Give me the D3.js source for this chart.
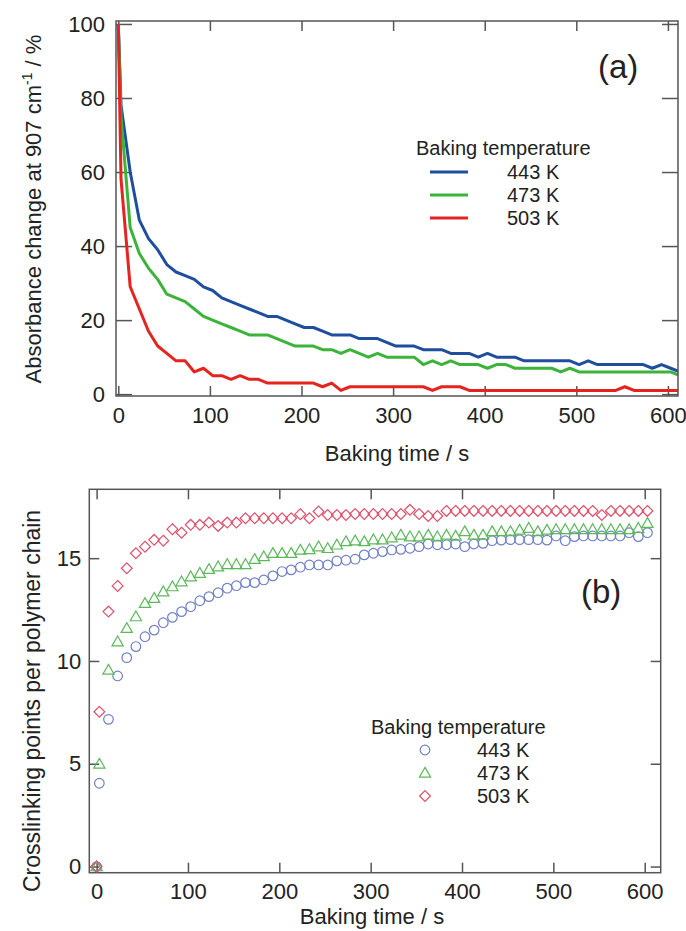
<!DOCTYPE html>
<html lang="en">
<head>
    <meta charset="UTF-8">
    <script src="https://d3js.org/d3.v7.min.js"></script>
    <title>Absorbance change and crosslinking points vs baking time</title>
    <style>
        html,
        body {
            margin: 0px;
            padding: 0px;
            background-color: #ffffff;
            font-family: "Liberation Sans", Arial, sans-serif;
            color: #222;
        }
        svg text {
            fill: #222;
        }
    </style>
</head>
<body>
    <div id="chart"></div>

    <script>
        // baking time (s); index 0 is the unbaked film
        let times = [0, 3, 13, 23, 33, 43, 53, 63, 73, 83,
            93, 103, 113, 123, 133, 143, 153, 163, 173, 183,
            193, 203, 213, 223, 233, 243, 253, 263, 273, 283,
            293, 303, 313, 323, 333, 343, 353, 363, 373, 383,
            393, 403, 413, 423, 433, 443, 453, 463, 473, 483,
            493, 503, 513, 523, 533, 543, 553, 563, 573, 583,
            593, 603, 613];

        let temps = ['443 K', '473 K', '503 K'];

        // (a) absorbance change at 907 cm-1 (%)
        let abs443 = [100, 78, 60, 47, 42, 39, 35, 33, 32, 31,
            29, 28, 26, 25, 24, 23, 22, 21, 21, 20,
            19, 18, 18, 17, 16, 16, 16, 15, 15, 15,
            14, 13, 13, 13, 12, 12, 12, 11, 11, 11,
            10, 11, 10, 10, 10, 9, 9, 9, 9, 9,
            9, 8, 9, 8, 8, 8, 8, 8, 8, 7,
            8, 7, 6];
        let abs473 = [100, 75, 45, 38, 34, 31, 27, 26, 25, 23,
            21, 20, 19, 18, 17, 16, 16, 16, 15, 14,
            13, 13, 13, 12, 12, 11, 12, 11, 10, 11,
            10, 10, 10, 10, 8, 9, 8, 9, 8, 8,
            8, 7, 8, 8, 7, 7, 7, 7, 7, 6,
            7, 6, 6, 6, 6, 6, 6, 6, 6, 6,
            6, 6, 5];
        let abs503 = [100, 58, 29, 23, 17, 13, 11, 9, 9, 6,
            7, 5, 5, 4, 5, 4, 4, 3, 3, 3,
            3, 3, 3, 2, 3, 1, 2, 2, 2, 2,
            2, 2, 2, 2, 2, 1, 2, 2, 2, 1,
            1, 1, 1, 1, 1, 1, 1, 1, 1, 1,
            1, 1, 1, 1, 1, 1, 2, 1, 1, 1,
            1, 1, 1];

        // (b) crosslinking points per polymer chain (times 0 .. 603)
        let cl443 = [0, 4.05, 7.16, 9.27, 10.16, 10.7, 11.18, 11.5, 11.86, 12.12,
            12.4, 12.64, 12.93, 13.13, 13.32, 13.54, 13.66, 13.81, 13.81, 13.94,
            14.14, 14.35, 14.43, 14.56, 14.67, 14.67, 14.67, 14.87, 14.9, 14.95,
            15.16, 15.24, 15.32, 15.4, 15.43, 15.48, 15.56, 15.69, 15.65, 15.65,
            15.69, 15.56, 15.69, 15.72, 15.85, 15.88, 15.9, 15.9, 15.9, 15.9,
            15.88, 16.08, 15.85, 16.05, 16.08, 16.08, 16.08, 16.08, 16.08, 16.24,
            16.05, 16.24];
        let cl473 = [0, 4.99, 9.56, 10.94, 11.59, 12.16, 12.81, 13.05, 13.37, 13.62,
            13.86, 14.1, 14.27, 14.46, 14.59, 14.7, 14.7, 14.7, 14.95, 15.08,
            15.24, 15.24, 15.24, 15.4, 15.43, 15.56, 15.48, 15.65, 15.81, 15.85,
            15.81, 15.9, 15.9, 16.0, 16.13, 16.05, 16.05, 16.13, 16.05, 16.13,
            16.08, 16.3, 16.13, 16.13, 16.3, 16.3, 16.3, 16.37, 16.46, 16.3,
            16.37, 16.4, 16.4, 16.4, 16.4, 16.4, 16.4, 16.4, 16.4, 16.4,
            16.46, 16.7];
        let cl503 = [0, 7.53, 12.4, 13.65, 14.51, 15.24, 15.56, 15.89, 15.85, 16.41,
            16.24, 16.62, 16.62, 16.73, 16.57, 16.73, 16.73, 16.94, 16.94, 16.94,
            16.94, 16.94, 16.94, 17.14, 16.94, 17.27, 17.1, 17.1, 17.1, 17.15,
            17.15, 17.15, 17.15, 17.15, 17.15, 17.35, 17.15, 17.05, 17.05, 17.3,
            17.3, 17.3, 17.3, 17.3, 17.3, 17.3, 17.3, 17.3, 17.3, 17.3,
            17.3, 17.3, 17.3, 17.3, 17.3, 17.3, 17.1, 17.3, 17.3, 17.3,
            17.3, 17.3];

        let absTicksY = [0, 20, 40, 60, 80, 100];
        let clTicksY = [0, 5, 10, 15];
        let timeTicks = [0, 100, 200, 300, 400, 500, 600];

        let lineColours = ['#1f4e9e', '#3cb33a', '#e5231f'];
        let markColours = ['#6f80c6', '#5cb85a', '#e0506a'];

        let width = 686;
        let height = 931;
        let frameColour = '#555';
        let font = '"Liberation Sans", Arial, sans-serif';

        let svg = d3.select('#chart').append('svg')
            .attr('width', width)
            .attr('height', height)
            .style('font-family', font);

        let pairs = (vals) => vals.map((v, i) => [times[i], v]);

        // ---------- panel (a) ----------
        let xa = d3.scaleLinear().domain([-2.5, 611]).range([116, 678]);
        let ya = d3.scaleLinear().domain([-0.5, 100.8]).range([396, 21]);

        let styleAxis = function(g) {
            g.select('.domain').remove();
            g.selectAll('.tick line').attr('stroke', frameColour).attr('stroke-width', 1.5);
            g.selectAll('.tick text').attr('font-size', 22).attr('fill', '#222').attr('font-family', font);
        };

        svg.append('g').attr('transform', 'translate(116,0)')
            .call(d3.axisLeft(ya).tickValues(absTicksY).tickSize(-16).tickPadding(11).tickFormat(d3.format('d')))
            .call(styleAxis);
        svg.append('g').attr('transform', 'translate(678,0)')
            .call(d3.axisRight(ya).tickValues(absTicksY).tickSize(-16).tickFormat(''))
            .call(styleAxis);
        svg.append('g').attr('transform', 'translate(0,396)')
            .call(d3.axisBottom(xa).tickValues(timeTicks).tickSize(-10).tickPadding(11).tickFormat(d3.format('d')))
            .call(styleAxis);
        svg.append('g').attr('transform', 'translate(0,21)')
            .call(d3.axisTop(xa).tickValues(timeTicks).tickSize(-10).tickFormat(''))
            .call(styleAxis);

        svg.append('clipPath').attr('id', 'clipA')
            .append('rect').attr('x', 116).attr('y', 21).attr('width', 562).attr('height', 375);

        let line = d3.line().x(d => xa(d[0])).y(d => ya(d[1]));
        let absSeries = [abs443, abs473, abs503];

        svg.append('g').attr('clip-path', 'url(#clipA)')
            .selectAll('path')
            .data(absSeries)
            .join('path')
            .attr('d', d => line(pairs(d)))
            .attr('fill', 'none')
            .attr('stroke', (d, i) => lineColours[i])
            .attr('stroke-width', 3)
            .attr('stroke-linejoin', 'round');

        svg.append('rect')
            .attr('x', 116).attr('y', 21).attr('width', 562).attr('height', 375)
            .attr('fill', 'none').attr('stroke', frameColour).attr('stroke-width', 1.5);

        svg.append('text')
            .attr('transform', 'translate(41,209) rotate(-90)')
            .attr('text-anchor', 'middle')
            .attr('font-size', 22)
            .call(t => {
                t.append('tspan').text('Absorbance change at 907 cm');
                t.append('tspan').attr('dy', -9).attr('font-size', 14).text('-1');
                t.append('tspan').attr('dy', 9).text(' / %');
            });

        svg.append('text')
            .attr('x', 397).attr('y', 461)
            .attr('text-anchor', 'middle')
            .attr('font-size', 22)
            .text('Baking time / s');

        svg.append('text')
            .attr('x', 598).attr('y', 78)
            .attr('font-size', 33)
            .text('(a)');

        // legend (a)
        let legA = svg.append('g');
        legA.append('text').attr('x', 416).attr('y', 155).attr('font-size', 20).text('Baking temperature');
        temps.forEach((t, i) => {
            let yy = 172 + i * 23;
            legA.append('line')
                .attr('x1', 430).attr('x2', 468).attr('y1', yy).attr('y2', yy)
                .attr('stroke', lineColours[i]).attr('stroke-width', 3);
            legA.append('text').attr('x', 507).attr('y', yy + 7).attr('font-size', 20).text(t);
        });

        // ---------- panel (b) ----------
        let xb = d3.scaleLinear().domain([-8, 617.5]).range([89.3, 660.7]);
        let yb = d3.scaleLinear().domain([-0.3, 18.35]).range([872.7, 489.3]);

        svg.append('g').attr('transform', 'translate(89.3,0)')
            .call(d3.axisLeft(yb).tickValues(clTicksY).tickSize(-10).tickPadding(8).tickFormat(d3.format('d')))
            .call(styleAxis);
        svg.append('g').attr('transform', 'translate(660.7,0)')
            .call(d3.axisRight(yb).tickValues(clTicksY).tickSize(-10).tickFormat(''))
            .call(styleAxis);
        svg.append('g').attr('transform', 'translate(0,872.7)')
            .call(d3.axisBottom(xb).tickValues(timeTicks).tickSize(-10).tickPadding(11).tickFormat(d3.format('d')))
            .call(styleAxis);
        svg.append('g').attr('transform', 'translate(0,489.3)')
            .call(d3.axisTop(xb).tickValues(timeTicks).tickSize(-10).tickFormat(''))
            .call(styleAxis);

        svg.append('rect')
            .attr('x', 89.3).attr('y', 489.3).attr('width', 571.4).attr('height', 383.4)
            .attr('fill', 'none').attr('stroke', frameColour).attr('stroke-width', 1.5);

        let shapes = [
            (g) => g.append('circle').attr('r', 4.8),
            (g) => g.append('path').attr('d', 'M0,-5.6L5.6,4.2L-5.6,4.2Z'),
            (g) => g.append('path').attr('d', 'M0,-5.4L5.4,0L0,5.4L-5.4,0Z')
        ];

        let clSeries = [cl443, cl473, cl503];
        clSeries.forEach((vals, si) => {
            svg.append('g')
                .selectAll('g')
                .data(pairs(vals))
                .join('g')
                .attr('transform', d => `translate(${xb(d[0])},${yb(d[1])})`)
                .each(function() { shapes[si](d3.select(this)); })
                .selectAll('circle, path')
                .attr('fill', 'none')
                .attr('stroke', markColours[si])
                .attr('stroke-width', 1.2);
        });

        svg.append('text')
            .attr('transform', 'translate(40,701) rotate(-90)')
            .attr('text-anchor', 'middle')
            .attr('font-size', 23)
            .text('Crosslinking points per polymer chain');

        svg.append('text')
            .attr('x', 372).attr('y', 924)
            .attr('text-anchor', 'middle')
            .attr('font-size', 22)
            .text('Baking time / s');

        svg.append('text')
            .attr('x', 581).attr('y', 603)
            .attr('font-size', 33)
            .text('(b)');

        // legend (b)
        let legB = svg.append('g');
        legB.append('text').attr('x', 371).attr('y', 734).attr('font-size', 20).text('Baking temperature');
        temps.forEach((t, i) => {
            let yy = 750 + i * 23;
            let g = legB.append('g').attr('transform', `translate(425,${yy})`);
            shapes[i](g).attr('fill', 'none').attr('stroke', markColours[i]).attr('stroke-width', 1.2);
            legB.append('text').attr('x', 477).attr('y', yy + 7).attr('font-size', 20).text(t);
        });
    </script>
</body>
</html>
